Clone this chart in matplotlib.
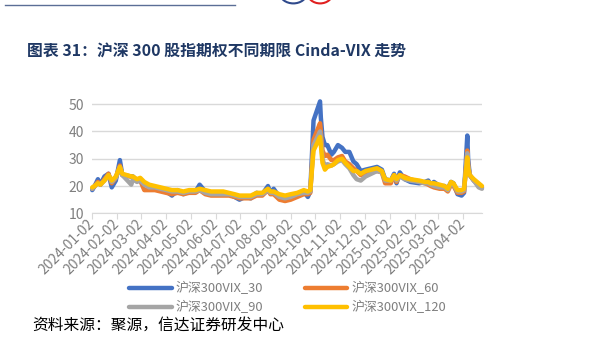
import pandas as pd
import matplotlib
matplotlib.use('Agg')
import matplotlib.pyplot as plt
from matplotlib.lines import Line2D
from matplotlib.patches import Ellipse

plt.rcParams['font.family'] = ['Noto Sans CJK SC', 'DejaVu Sans']

dates = ['2024-01-02', '2024-01-05', '2024-01-09', '2024-01-12', '2024-01-17', '2024-01-22',
         '2024-01-26', '2024-01-31', '2024-02-05', '2024-02-08', '2024-02-19', '2024-02-21',
         '2024-02-26', '2024-03-01', '2024-03-06', '2024-03-12', '2024-03-19', '2024-03-26',
         '2024-04-02', '2024-04-09', '2024-04-16', '2024-04-23', '2024-04-30', '2024-05-08',
         '2024-05-13', '2024-05-20', '2024-05-27', '2024-06-03', '2024-06-11', '2024-06-18',
         '2024-06-25', '2024-07-01', '2024-07-08', '2024-07-15', '2024-07-22', '2024-07-29',
         '2024-08-05', '2024-08-08', '2024-08-12', '2024-08-19', '2024-08-26', '2024-09-02',
         '2024-09-10', '2024-09-18', '2024-09-23', '2024-09-26', '2024-09-30', '2024-10-08',
         '2024-10-09', '2024-10-11', '2024-10-14', '2024-10-17', '2024-10-22', '2024-10-25',
         '2024-10-30', '2024-11-04', '2024-11-08', '2024-11-13', '2024-11-18', '2024-11-22',
         '2024-11-27', '2024-12-03', '2024-12-10', '2024-12-17', '2024-12-23', '2024-12-27',
         '2025-01-03', '2025-01-07', '2025-01-10', '2025-01-14', '2025-01-20', '2025-01-27',
         '2025-02-07', '2025-02-14', '2025-02-18', '2025-02-21', '2025-02-25', '2025-03-04',
         '2025-03-10', '2025-03-14', '2025-03-18', '2025-03-21', '2025-03-26', '2025-03-31',
         '2025-04-03', '2025-04-07', '2025-04-08', '2025-04-10', '2025-04-15', '2025-04-21',
         '2025-04-25']

vix30 = [18.5, 20.0, 22.5, 20.5, 23.5, 24.5, 19.5, 22.0, 29.5, 24.0, 23.5, 23.5,
         22.0, 22.5, 21.0, 20.0, 19.0, 18.5, 18.0, 16.5, 18.5, 17.0, 18.0, 18.0,
         20.5, 18.0, 17.5, 17.5, 17.0, 17.0, 16.0, 15.0, 16.0, 15.5, 17.5, 17.0,
         20.0, 17.5, 19.0, 16.0, 15.5, 16.5, 17.0, 18.0, 16.0, 18.0, 44.0, 51.0,
         45.0, 38.0, 35.0, 35.0, 31.5, 32.5, 35.0, 34.0, 32.5, 32.5, 29.0, 28.0,
         25.5, 26.0, 26.5, 27.0, 26.0, 22.5, 22.0, 24.5, 21.0, 25.0, 22.5, 21.5,
         21.0, 21.5, 22.0, 20.5, 21.5, 20.0, 20.0, 19.0, 21.5, 21.0, 17.0, 16.5,
         17.5, 38.5, 30.0, 24.0, 22.0, 20.5, 19.5]
vix60 = [19.0, 20.0, 21.5, 20.5, 22.5, 24.5, 21.0, 23.0, 27.5, 24.0, 23.5, 23.0,
         22.0, 22.0, 18.5, 18.5, 18.5, 18.0, 17.5, 17.0, 17.5, 17.0, 17.5, 17.5,
         18.5, 17.0, 16.5, 16.5, 16.5, 16.5, 16.0, 15.5, 15.5, 15.5, 16.5, 16.5,
         18.5, 17.0, 17.0, 15.0, 14.5, 15.0, 16.0, 17.0, 17.0, 17.5, 37.0, 43.0,
         40.0, 33.0, 31.0, 31.5, 29.5, 29.5, 30.5, 31.0, 29.0, 28.0, 26.5, 25.5,
         24.0, 24.5, 25.0, 25.5, 25.0, 21.0, 21.0, 24.0, 21.5, 24.0, 23.5, 22.5,
         21.5, 21.0, 20.5, 20.0, 19.5, 19.0, 19.0, 18.0, 20.5, 20.0, 17.5, 17.5,
         18.0, 33.0, 28.0, 24.0, 22.0, 20.5, 19.5]
vix90 = [19.0, 20.0, 21.0, 20.5, 22.0, 24.0, 21.5, 23.0, 27.0, 24.0, 20.5, 22.5,
         21.5, 22.0, 20.5, 19.5, 19.5, 19.0, 18.5, 18.0, 18.0, 17.5, 18.0, 18.0,
         18.5, 17.5, 17.0, 17.0, 17.0, 17.0, 16.5, 16.0, 16.0, 16.0, 17.0, 17.0,
         18.5, 17.5, 17.5, 16.0, 15.5, 16.0, 17.0, 17.5, 17.5, 18.0, 35.0, 40.0,
         38.0, 30.0, 27.0, 28.0, 27.5, 28.0, 29.0, 29.5, 28.0, 26.5, 24.0, 22.5,
         22.0, 23.5, 24.5, 25.5, 25.0, 22.0, 22.0, 23.5, 22.0, 23.5, 22.5, 22.0,
         21.5, 21.0, 21.0, 20.5, 20.0, 19.5, 19.5, 18.5, 21.0, 20.5, 18.0, 18.0,
         18.5, 32.0, 27.5, 24.0, 22.0, 19.5, 19.0]
vix120 = [19.5, 20.0, 21.0, 20.5, 22.0, 24.0, 22.0, 23.5, 27.0, 24.5, 23.5, 23.5,
          22.5, 23.0, 21.5, 20.5, 20.0, 19.5, 19.0, 18.5, 18.5, 18.0, 18.5, 18.5,
          19.0, 18.5, 18.0, 18.0, 18.0, 17.5, 17.0, 16.5, 16.5, 16.5, 17.5, 17.5,
          19.0, 18.0, 18.0, 17.0, 16.5, 17.0, 17.5, 18.5, 18.0, 18.5, 33.0, 38.0,
          35.0, 28.5, 26.0, 27.0, 27.5, 28.0, 29.5, 30.0, 28.5, 27.0, 25.5, 25.5,
          24.5, 25.5, 26.0, 26.5, 25.5, 22.5, 22.0, 24.0, 22.5, 24.0, 23.0, 22.5,
          22.0, 21.5, 21.5, 21.0, 21.0, 20.5, 20.0, 19.0, 21.5, 21.0, 18.5, 18.5,
          19.0, 30.5, 26.5, 24.0, 22.5, 21.0, 20.0]

series_names = ['沪深300VIX_30', '沪深300VIX_60', '沪深300VIX_90', '沪深300VIX_120']
colors = ['#4472C4', '#ED7D31', '#A5A5A5', '#FFC000']
yticks = [10, 20, 30, 40, 50]

x = pd.to_datetime(dates)
fig = plt.figure(figsize=(5.95, 3.4), dpi=100)
ax = fig.add_axes([0.155, 0.3726, 0.655, 0.3412])

handles = []
for vals, name, c in zip([vix30, vix60, vix90, vix120], series_names, colors):
    h, = ax.plot(x, vals, color=c, lw=3.2, label=name, solid_joinstyle='round',
                 solid_capstyle='round', clip_on=False)
    handles.append(h)

ax.set_ylim(10, 52.5)
ax.set_yticks(yticks)
ax.set_xlim(pd.Timestamp('2024-01-02'), pd.Timestamp('2025-04-25'))
xt = pd.date_range('2024-01-01', '2025-04-01', freq='MS') + pd.Timedelta(days=1)
ax.set_xticks(xt)
ax.set_xticklabels([d.strftime('%Y-%m-%d') for d in xt], rotation=45, ha='right',
                   rotation_mode='anchor', va='center', fontweight='light')
for lab in ax.get_yticklabels():
    lab.set_fontweight('light')
ax.grid(axis='y', color='#D9D9D9', lw=1)
ax.set_axisbelow(True)
for s in ['top', 'right', 'left']:
    ax.spines[s].set_visible(False)
ax.spines['bottom'].set_color('#D9D9D9')
ax.tick_params(axis='y', length=0, labelsize=10, labelcolor='#7F7F7F', pad=6)
ax.tick_params(axis='x', length=4, color='#D9D9D9', labelsize=10, labelcolor='#7F7F7F', pad=2)

leg = fig.legend([handles[0], handles[2], handles[1], handles[3]],
                 [series_names[0], series_names[2], series_names[1], series_names[3]],
                 ncol=2, loc='upper left', bbox_to_anchor=(0.217, 0.17), frameon=False,
                 handlelength=3.3, handletextpad=0.3, columnspacing=3.2,
                 labelspacing=0.45, borderpad=0, borderaxespad=0, labelcolor='#7F7F7F',
                 prop={'weight': 'light', 'size': 9.3})

fig.text(0.045, 0.848, '图表 31：沪深 300 股指期权不同期限 Cinda-VIX 走势', fontsize=11.4,
         fontweight='bold', color='#1F3864', va='center')
fig.text(0.055, 0.043, '资料来源：聚源，信达证券研发中心', fontsize=11.3, color='black',
         va='center', style='italic')

# header decoration
fig.add_artist(Line2D([0.008, 0.395], [0.985, 0.985], color='#5B6E96', lw=1))
fig.add_artist(Ellipse((0.493, 1.02), 0.045, 0.06, color='#2F4A8C', fill=False, lw=1.5))
fig.add_artist(Ellipse((0.538, 1.02), 0.042, 0.06, color='#E02020', fill=False, lw=1.5))

fig.savefig('out.png', dpi=100)
